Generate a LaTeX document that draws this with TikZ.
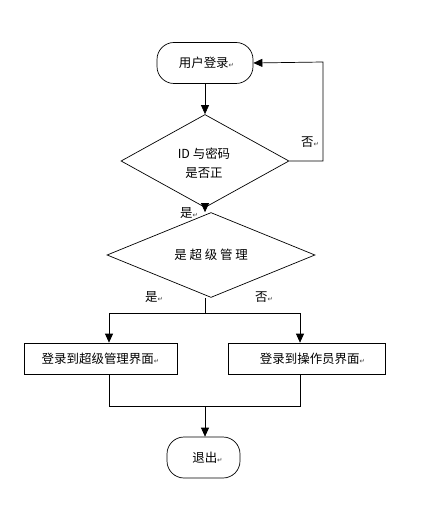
\documentclass[tikz,border=0pt]{standalone}
\usepackage{fontspec}
\setmainfont{Liberation Serif}
\newfontfamily\cjk{Noto Sans CJK SC}
\newfontfamily\symfont{DejaVu Sans}
\usetikzlibrary{shapes.geometric,arrows.meta}
\newcommand\pmk{{\symfont\fontsize{6.5}{7}\selectfont\color{black!75}↵}}
\tikzset{
  x=1bp, y=-1bp,
  every node/.style={font=\cjk\fontsize{12.5}{19}\selectfont, inner sep=0pt},
  term/.style={draw, rounded corners=17bp, minimum width=96bp, minimum height=41bp, line width=0.7bp},
  decide/.style={draw, diamond, line width=0.7bp, align=center},
  procbox/.style={draw, rectangle, minimum height=31bp, line width=0.7bp},
  lbl/.style={font=\cjk\fontsize{12.5}{14}\selectfont},
  flow/.style={line width=0.7bp, -{Triangle[length=9bp,width=8bp]}},
  plain/.style={line width=0.7bp},
}
\begin{document}
\begin{tikzpicture}
\useasboundingbox[fill=white] (0,0) rectangle (434,521);
\node[term] (start) at (205,63) {\hspace*{3bp}用户登录\pmk};
\node[decide, minimum width=168bp, minimum height=93bp] (d1) at (205,161) {};
\node[align=center] (d1t) at (204,163.5) {ID 与密码\\是否正};
\node[decide, minimum width=208bp, minimum height=52bp] (d2) at (211,255) {是 超 级 管 理};
\node[procbox, minimum width=153bp] (p1) at (100.5,358.5) {登录到超级管理界面\pmk};
\node[procbox, minimum width=157bp] (p2) at (306.5,358.5) {\hspace*{12bp}登录到操作员界面\pmk};
\node[term, minimum width=73bp] (end) at (203.5,457.5) {\hspace*{8bp}退出\pmk};
\coordinate (fb) at (323,62);
\coordinate (sp) at (205,313);
\coordinate (spl) at (109,313);
\coordinate (spr) at (300,313);
\coordinate (jn) at (205,406);
\node[lbl] (no1) at (310,142) {否\pmk};
\node[lbl] (yes1) at (189,213.5) {是\pmk};
\node[lbl] (yes2) at (154,297.5) {是\pmk};
\node[lbl] (no2) at (264,297.5) {否\pmk};
\draw[flow] (start) -- (d1);
\draw[flow] (d1.east) -| (fb) -- (start.east);
\draw[flow] (d1.south) -- (d1.south |- d2.north);
\draw[plain] (d1.south |- d2.south) -- (sp);
\draw[plain] (spl) -- (spr);
\draw[flow] (spl) -- (p1.north -| spl);
\draw[flow] (spr) -- (p2.north -| spr);
\draw[plain] (p1.south -| spl) -- (spl |- jn) -- (spr |- jn) -- (p2.south -| spr);
\draw[flow] (jn) -- (end.north -| jn);
\end{tikzpicture}
\end{document}
